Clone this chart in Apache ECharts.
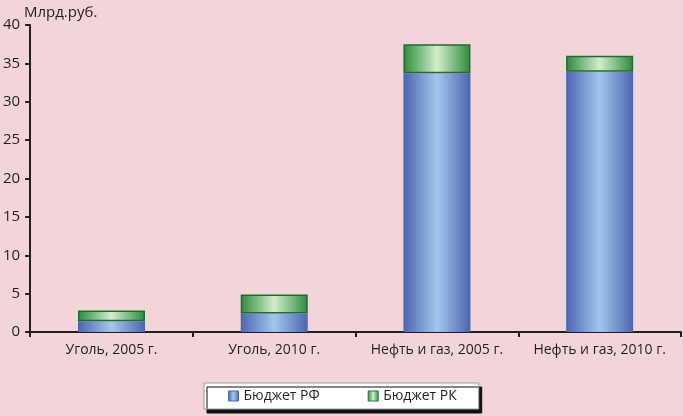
<!DOCTYPE html>
<html>
<head>
<meta charset="utf-8">
<script src="https://cdn.jsdelivr.net/npm/echarts@6/dist/echarts.min.js"></script>
<style>
html, body { margin: 0; padding: 0; background: #f2d5d8; }
#main { width: 683px; height: 416px; }
</style>
</head>
<body>
<div id="main"></div>
<script>
// данные
var categories = ['Уголь, 2005 г.', 'Уголь, 2010 г.', 'Нефть и газ, 2005 г.', 'Нефть и газ, 2010 г.'];
var budgetRF = [1.4, 2.4, 33.7, 33.9];
var budgetRK = [1.4, 2.5, 3.8, 2.1];
var yTicks = [0, 5, 10, 15, 20, 25, 30, 35, 40];

var font = '"Open Sans", "Liberation Sans", sans-serif';

// горизонтальные градиенты "цилиндров"
function hGrad(edge, mid) {
	return new echarts.graphic.LinearGradient(0, 0, 1, 0, [
		{ offset: 0, color: edge },
		{ offset: 0.5, color: mid },
		{ offset: 1, color: edge }
	]);
}
var blueFill = hGrad('#4a66b0', '#a3c6ec');
var greenFill = hGrad('#2a8c3c', '#d3edcb');

var chart = echarts.init(document.getElementById('main'));

var option = {
	backgroundColor: '#f2d5d8',
	animation: false,
	title: {
		text: 'Млрд.руб.',
		left: 19,
		top: 0,
		textStyle: { fontFamily: font, fontSize: 15, fontWeight: 'normal', color: '#231f20' }
	},
	grid: { left: 27, right: 2, top: 25, bottom: 84 },
	legend: {
		left: 204,
		top: 383,
		padding: [6, 22, 6, 24],
		itemGap: 48,
		itemWidth: 10,
		itemHeight: 10,
		icon: 'rect',
		backgroundColor: '#ffffff',
		borderColor: '#9a9a9a',
		borderWidth: 1,
		shadowColor: '#111',
		shadowOffsetX: 3,
		shadowOffsetY: 4,
		shadowBlur: 0,
		textStyle: { fontFamily: font, fontSize: 14, color: '#231f20' },
		data: [
			{ name: 'Бюджет РФ', itemStyle: { color: blueFill, borderColor: '#4a66b0', borderWidth: 1 } },
			{ name: 'Бюджет РК', itemStyle: { color: greenFill, borderColor: '#1f7a35', borderWidth: 1 } }
		]
	},
	xAxis: {
		type: 'category',
		data: categories,
		axisLine: { lineStyle: { color: '#231f20', width: 2 } },
		axisTick: { show: true, length: 5, lineStyle: { color: '#231f20', width: 2 } },
		axisLabel: { interval: 0, fontFamily: font, fontSize: 14, color: '#231f20', margin: 11 }
	},
	yAxis: {
		type: 'value',
		min: yTicks[0],
		max: yTicks[yTicks.length - 1],
		interval: 5,
		splitLine: { show: false },
		axisLine: { show: true, lineStyle: { color: '#231f20', width: 2 } },
		axisTick: { show: true, length: 5, lineStyle: { color: '#231f20', width: 2 } },
		axisLabel: { fontFamily: font, fontSize: 15, color: '#231f20', margin: 10 }
	},
	series: [
		{
			name: 'Бюджет РФ',
			type: 'bar',
			stack: 'total',
			barWidth: 67,
			data: budgetRF,
			itemStyle: { color: blueFill }
		},
		{
			name: 'Бюджет РК',
			type: 'bar',
			stack: 'total',
			barWidth: 67,
			data: budgetRK,
			itemStyle: { color: greenFill, borderColor: '#1b6e30', borderWidth: 1.5 }
		}
	]
};

chart.setOption(option);
window.onresize = chart.resize;
</script>
</body>
</html>
